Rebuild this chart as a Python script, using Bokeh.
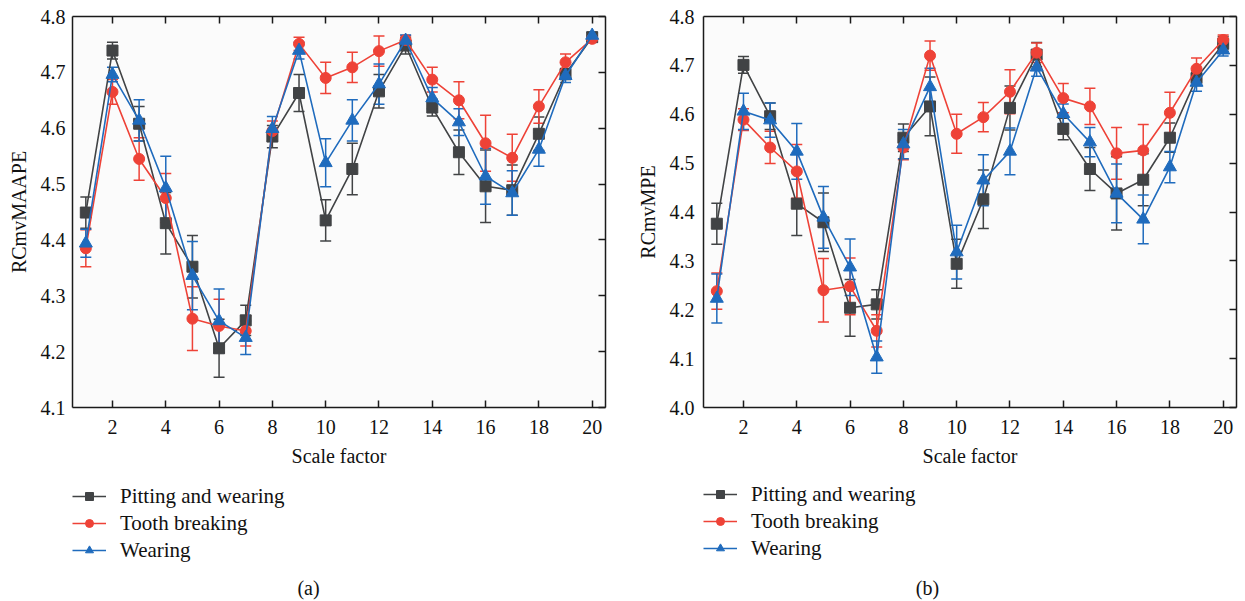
from bokeh.plotting import figure
from bokeh.models import (ColumnDataSource, Whisker, TeeHead, LinearAxis, FixedTicker,
                          Legend, LegendItem, Label, Range1d, PrintfTickFormatter)
from bokeh.layouts import row, column
from bokeh.embed import file_html
from bokeh.resources import INLINE

# ---------------- data ----------------
scale = list(range(1, 21))
series_names = ["Pitting and wearing", "Tooth breaking", "Wearing"]

a_pw = [4.449, 4.739, 4.608, 4.430, 4.352, 4.206, 4.256, 4.585, 4.663, 4.435,
        4.527, 4.666, 4.748, 4.637, 4.557, 4.496, 4.489, 4.590, 4.697, 4.763]
a_pw_err = [0.028, 0.015, 0.031, 0.055, 0.056, 0.052, 0.027, 0.020, 0.033, 0.037,
            0.046, 0.030, 0.015, 0.015, 0.040, 0.065, 0.045, 0.030, 0.010, 0.008]
a_tb = [4.385, 4.665, 4.545, 4.475, 4.259, 4.246, 4.237, 4.595, 4.751, 4.690,
        4.709, 4.738, 4.758, 4.687, 4.650, 4.573, 4.547, 4.639, 4.718, 4.760]
a_tb_err = [0.033, 0.022, 0.038, 0.044, 0.057, 0.048, 0.027, 0.018, 0.012, 0.028,
            0.027, 0.027, 0.008, 0.022, 0.033, 0.050, 0.042, 0.030, 0.015, 0.005]
a_w = [4.394, 4.696, 4.614, 4.493, 4.336, 4.255, 4.225, 4.599, 4.739, 4.538,
       4.614, 4.679, 4.757, 4.654, 4.611, 4.514, 4.484, 4.562, 4.694, 4.766]
a_w_err = [0.025, 0.013, 0.037, 0.057, 0.061, 0.057, 0.030, 0.022, 0.015, 0.043,
           0.037, 0.036, 0.010, 0.019, 0.024, 0.050, 0.040, 0.030, 0.012, 0.006]

b_pw = [4.376, 4.701, 4.596, 4.417, 4.379, 4.204, 4.211, 4.552, 4.616, 4.294,
        4.426, 4.613, 4.722, 4.570, 4.488, 4.438, 4.466, 4.552, 4.674, 4.744]
b_pw_err = [0.042, 0.017, 0.027, 0.065, 0.060, 0.058, 0.030, 0.028, 0.060, 0.050,
            0.060, 0.045, 0.025, 0.022, 0.044, 0.075, 0.053, 0.030, 0.015, 0.015]
b_tb = [4.238, 4.589, 4.532, 4.483, 4.240, 4.248, 4.157, 4.532, 4.720, 4.560,
        4.594, 4.646, 4.726, 4.633, 4.616, 4.520, 4.526, 4.603, 4.693, 4.752]
b_tb_err = [0.037, 0.022, 0.033, 0.055, 0.065, 0.058, 0.033, 0.025, 0.030, 0.040,
            0.030, 0.045, 0.020, 0.030, 0.037, 0.053, 0.053, 0.042, 0.022, 0.010]
b_w = [4.223, 4.606, 4.588, 4.524, 4.389, 4.287, 4.103, 4.539, 4.656, 4.318,
       4.465, 4.524, 4.696, 4.601, 4.543, 4.438, 4.385, 4.492, 4.665, 4.731]
b_w_err = [0.050, 0.037, 0.035, 0.057, 0.063, 0.058, 0.033, 0.030, 0.038, 0.055,
           0.052, 0.048, 0.018, 0.020, 0.030, 0.060, 0.050, 0.032, 0.018, 0.012]

x_ticks = [2, 4, 6, 8, 10, 12, 14, 16, 18, 20]
a_y_ticks = [4.1, 4.2, 4.3, 4.4, 4.5, 4.6, 4.7, 4.8]
b_y_ticks = [4.0, 4.1, 4.2, 4.3, 4.4, 4.5, 4.6, 4.7, 4.8]

# ---------------- style ----------------
COLORS = ["#414345", "#ee4237", "#1f6bbd"]
MARKERS = ["square", "circle", "triangle"]
MSIZES = [11, 11, 13]
FONT = "Liberation Serif"
FS = "20px"
AXC = "#1a1a1a"
TOP_H = 480
BOT_H = 601 - TOP_H


def add_series(p, xs, vals, err, i, whiskers=True):
    src = ColumnDataSource(dict(x=xs, y=vals,
                                lo=[v - e for v, e in zip(vals, err)],
                                hi=[v + e for v, e in zip(vals, err)]))
    c = COLORS[i]
    if whiskers:
        w = Whisker(base="x", upper="hi", lower="lo", source=src,
                    line_color=c, line_width=1.5,
                    upper_head=TeeHead(size=11, line_color=c, line_width=1.5),
                    lower_head=TeeHead(size=11, line_color=c, line_width=1.5))
        p.add_layout(w)
    lr = p.line("x", "y", source=src, line_color=c, line_width=1.6)
    sr = p.scatter("x", "y", source=src, marker=MARKERS[i], size=MSIZES[i],
                   fill_color=c, line_color=c)
    return lr, sr


def make_panel(width, border_left, border_right, y0, y1, y_ticks, ylabel,
               series, errs, tick_standoff):
    p = figure(width=width, height=TOP_H, output_backend="svg", toolbar_location=None,
               x_range=Range1d(0.5, 20.5), y_range=Range1d(y0, y1),
               min_border_left=border_left, min_border_right=border_right,
               min_border_top=16, min_border_bottom=TOP_H - 407,
               background_fill_color="#fbfbfb", border_fill_color="white")
    p.outline_line_color = None
    p.grid.visible = False

    for i, (vals, err) in enumerate(zip(series, errs)):
        add_series(p, scale, vals, err, i)

    xa = p.xaxis[0]
    xa.ticker = FixedTicker(ticks=x_ticks)
    xa.axis_label = "Scale factor"
    ya = p.yaxis[0]
    ya.ticker = FixedTicker(ticks=y_ticks)
    ya.formatter = PrintfTickFormatter(format="%.1f")
    ya.axis_label = ylabel
    ya.major_tick_in = 0
    ya.major_tick_out = 0
    ya.major_label_standoff = tick_standoff
    ya.axis_label_standoff = 8
    xa.major_tick_in = 7
    xa.major_tick_out = 0
    xa.major_label_standoff = 12
    xa.axis_label_standoff = 8
    for ax in (xa, ya):
        ax.minor_tick_line_color = None
        ax.axis_line_width = 1.5
        ax.axis_line_color = AXC
        ax.major_tick_line_width = 1.5
        ax.major_tick_line_color = AXC
        ax.major_label_text_font = FONT
        ax.major_label_text_font_size = FS
        ax.major_label_text_color = "#111"
        ax.axis_label_text_font = FONT
        ax.axis_label_text_font_size = FS
        ax.axis_label_text_font_style = "normal"
        ax.axis_label_text_color = "#111"

    top = LinearAxis(ticker=FixedTicker(ticks=x_ticks),
                     major_label_overrides={t: "" for t in x_ticks})
    right = LinearAxis(ticker=FixedTicker(ticks=y_ticks),
                       major_label_overrides={t: "" for t in y_ticks})
    for ax in (top, right):
        ax.major_tick_in = 7
        ax.major_tick_out = 0
        ax.minor_tick_line_color = None
        ax.major_label_text_font_size = "1px"
        ax.major_label_standoff = 0
        ax.axis_line_width = 1.5
        ax.axis_line_color = AXC
        ax.major_tick_line_width = 1.5
        ax.major_tick_line_color = AXC
    p.add_layout(top, "above")
    p.add_layout(right, "right")
    return p


def make_legend_panel(width, border_left, border_right, series, errs,
                      legend_x, legend_y, tag, tag_x):
    # Series are re-plotted here far outside the visible ranges, only so the
    # legend can draw its line+marker glyphs; the legend sits below the chart.
    q = figure(width=width, height=BOT_H, output_backend="svg", toolbar_location=None,
               x_range=Range1d(-2, -1), y_range=Range1d(0, 1),
               x_axis_type=None, y_axis_type=None,
               min_border_left=border_left, min_border_right=border_right,
               min_border_top=0, min_border_bottom=0,
               background_fill_color="white", border_fill_color="white")
    q.outline_line_color = None
    items = []
    for i, name in enumerate(series_names):
        lr, sr = add_series(q, scale, series[i], errs[i], i, whiskers=False)
        items.append(LegendItem(label=name, renderers=[lr, sr]))
    leg = Legend(items=items, location=(legend_x, legend_y), padding=0, margin=0,
                 border_line_alpha=0, background_fill_alpha=0,
                 label_text_font=FONT, label_text_font_size="21px",
                 label_text_color="#111",
                 glyph_width=34, glyph_height=20, label_height=26,
                 label_standoff=14, spacing=1)
    q.add_layout(leg, "center")
    q.add_layout(Label(x=tag_x, y=14, x_units="screen", y_units="screen",
                       text=tag, text_font=FONT, text_font_size=FS,
                       text_color="#111", text_align="center",
                       text_baseline="middle"))
    return q


pa = make_panel(620, 72, 15, 4.1, 4.8, a_y_ticks, "RCmvMAAPE",
                [a_pw, a_tb, a_w], [a_pw_err, a_tb_err, a_w_err], 7)
pb = make_panel(625, 83, 9, 4.0, 4.8, b_y_ticks, "RCmvMPE",
                [b_pw, b_tb, b_w], [b_pw_err, b_tb_err, b_w_err], 9)
la = make_legend_panel(620, 72, 15, [a_pw, a_tb, a_w], [a_pw_err, a_tb_err, a_w_err],
                       0, 38, "(a)", 236)
lb = make_legend_panel(625, 83, 9, [b_pw, b_tb, b_w], [b_pw_err, b_tb_err, b_w_err],
                       0, 40, "(b)", 224)

layout = row(column(pa, la), column(pb, lb))
open("out.html", "w").write(file_html(layout, INLINE))
